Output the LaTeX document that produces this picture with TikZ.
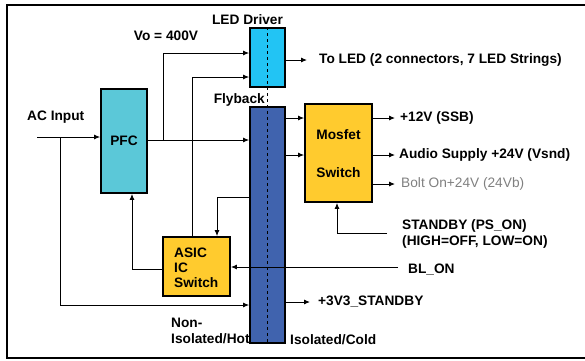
\documentclass[tikz,border=0pt]{standalone}
\usepackage{fontspec}
\setmainfont{Liberation Sans}
\usepackage{tikz}
\usetikzlibrary{arrows.meta,positioning,calc}
\definecolor{ledblue}{HTML}{22C4F4}
\definecolor{flyblue}{HTML}{4063AE}
\definecolor{pfccyan}{HTML}{5BC8D8}
\definecolor{swyellow}{HTML}{FFCB2E}
\tikzstyle{arrow} = [line width=0.9pt, -{Latex[length=6pt,width=5pt]}]
\tikzstyle{line} = [line width=0.9pt]
\tikzstyle{block} = [draw, line width=1.8pt, inner sep=0pt]
\tikzstyle{lbl} = [inner sep=0pt, font=\fontsize{13.7}{16}\selectfont\bfseries]

\begin{document}
\begin{tikzpicture}[x=1pt, y=-1pt, >=Latex]
    \useasboundingbox (0,0) rectangle (585,360);
    \draw[line width=2pt] (592,5) -- (7,5) -- (7,358) -- (592,358);

    % blocks
    \node[block, fill=ledblue, minimum width=35pt, minimum height=59pt] (led) at (267.5,57.5) {};
    \node[block, fill=flyblue, minimum width=35pt, minimum height=236pt] (fly) at (267.5,225) {};
    \node[block, fill=pfccyan, minimum width=46pt, minimum height=104pt] (pfc) at (124,141) {};
    \node[block, fill=swyellow, minimum width=67pt, minimum height=59pt] (asic) at (196.5,266.5) {};
    \node[block, fill=swyellow, minimum width=67pt, minimum height=98pt] (mos) at (338.5,153) {};
    \draw[line, dashed] (led.north) -- (fly.south);

    % texts
    \node[lbl] (pfctxt) at (pfc) {PFC};
    \node[lbl] (mosa) at (338.5,135) {Mosfet};
    \node[lbl] (mosb) at (338.5,173) {Switch};
    \node[lbl, anchor=west, align=left] (asictxt) at (174,268) {ASIC\\[-1pt]IC\\[-1pt]Switch};
    \node[lbl] (ledtxt) at (247.5,20) {LED Driver};
    \node[lbl, anchor=east] (flytxt) at (265,100) {Flyback};
    \node[lbl] (votxt) at (166,36) {Vo = 400V};
    \node[lbl, anchor=west] (actxt) at (27,117) {AC Input};
    \node[lbl, anchor=west] (toled) at (319,60) {To LED (2 connectors, 7 LED Strings)};
    \node[lbl, anchor=west] (ssb) at (400,118) {+12V (SSB)};
    \node[lbl, anchor=west] (vsnd) at (399,155) {Audio Supply +24V (Vsnd)};
    \node[lbl, anchor=west, text=gray, font=\fontsize{13.7}{16}\selectfont] (vb) at (401,184) {Bolt On+24V (24Vb)};
    \node[lbl, anchor=west, align=left] (stby) at (402,234) {STANDBY (PS\_ON)\\(HIGH=OFF, LOW=ON)};
    \node[lbl, anchor=west] (blon) at (408,270) {BL\_ON};
    \node[lbl, anchor=west] (v33) at (318,302) {+3V3\_STANDBY};
    \node[lbl, anchor=west, align=left] (hot) at (171,331) {Non-\\Isolated/Hot};
    \node[lbl, anchor=west] (cold) at (290,340) {Isolated/Cold};

    % connectors
    \coordinate (acin) at (37,137);
    \coordinate (acsplit) at (60,137);
    \coordinate (vosplit) at (163,140);
    \draw[arrow] (acin) -- (pfc.west |- acin);
    \draw[arrow] (acsplit) |- (fly.west |- 0,305);
    \draw[arrow] (pfc.east |- vosplit) -- (fly.west |- vosplit);
    \draw[arrow] (vosplit) |- (led.west |- 0,53);
    \draw[arrow] (asic.north -| 192,0) |- (led.west |- 0,77);
    \draw[arrow] (fly.west |- 0,197) -| (asic.north -| 217,0);
    \draw[arrow] (asic.west |- 0,269) -| (pfc.south -| 132,0);
    \draw[arrow] (led.east |- 0,60) -- (307,60);
    \draw[arrow] (fly.east |- 0,118) -- (mos.west |- 0,118);
    \draw[arrow] (fly.east |- 0,155) -- (mos.west |- 0,155);
    \draw[arrow] (mos.east |- 0,118) -- (395,118);
    \draw[arrow] (mos.east |- 0,155) -- (395,155);
    \draw[arrow] (mos.east |- 0,184) -- (395,184);
    \draw[arrow] (387,233) -| (mos.south -| 337,0);
    \draw[arrow] (398,267) -- (asic.east |- 0,267);
    \draw[arrow] (fly.east |- 0,302) -- (310,302);
\end{tikzpicture}
\end{document}
